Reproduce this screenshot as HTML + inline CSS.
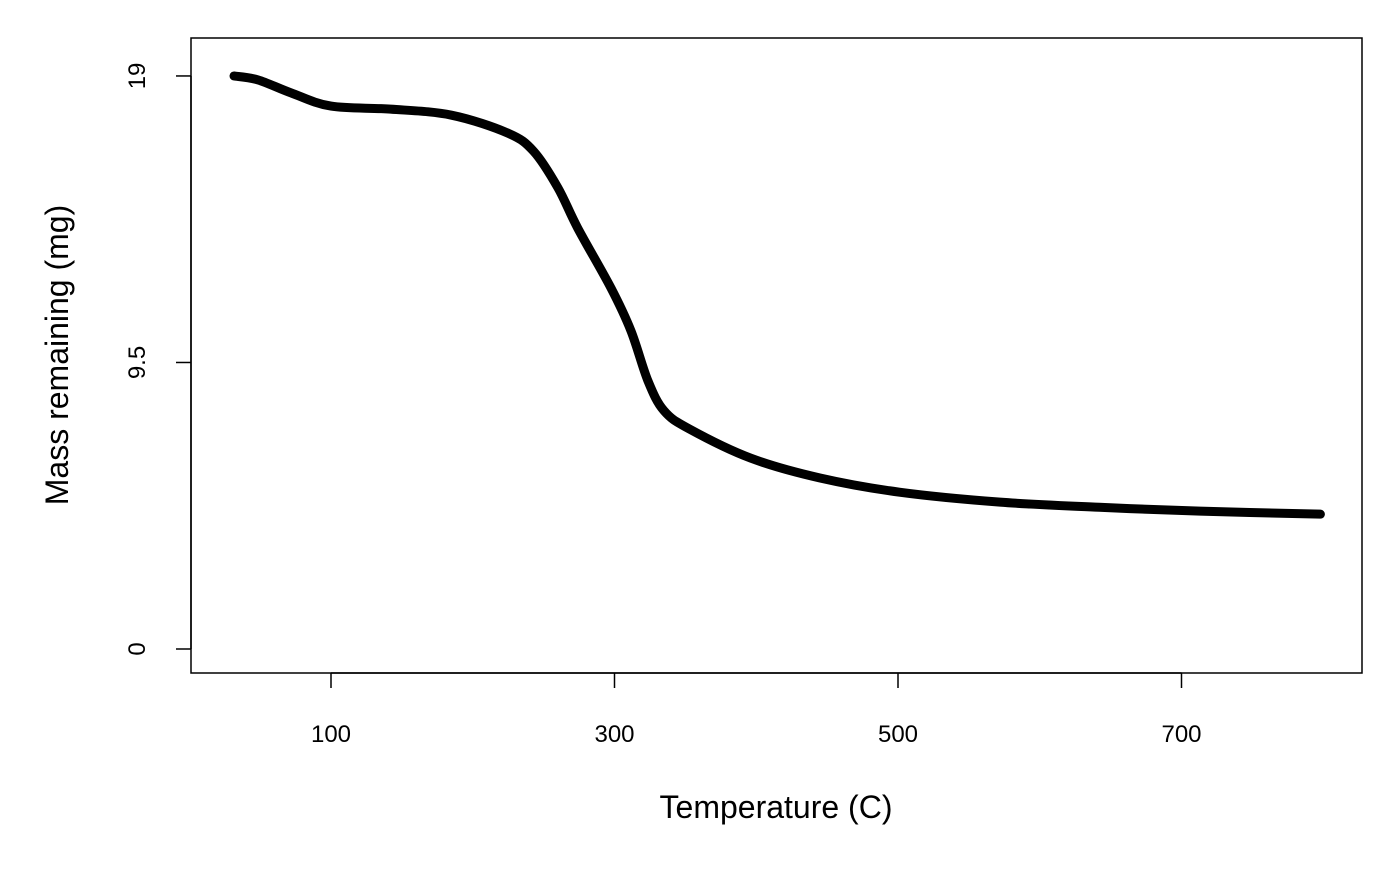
<!DOCTYPE html>
<html><head><meta charset="utf-8"><style>
body{margin:0;background:#fff}
text{font-family:"Liberation Sans",Arial,sans-serif;fill:#000}
</style></head><body>
<svg id="chart" width="1400" height="865" xmlns="http://www.w3.org/2000/svg">
<rect x="191" y="38" width="1171" height="635" fill="none" stroke="#000" stroke-width="1.5"/>
<g id="xaxis"></g><g id="yaxis"></g>
<text x="776" y="818" font-size="32" text-anchor="middle">Temperature (C)</text>
<text transform="translate(68,355) rotate(-90)" font-size="32" text-anchor="middle">Mass remaining (mg)</text>
<path id="curve" fill="none" stroke="#000" stroke-width="9" stroke-linecap="round" stroke-linejoin="round"/>
</svg>
<script>
const temps=[31.6,48.5,71.8,100,142,185,225,243,260,274,297.5,311.6,323.6,334.9,352.6,396,445,501,572,642,713,798];
const mass=[19.0,18.87,18.44,18.0,17.9,17.7,17.1,16.5,15.3,13.96,11.97,10.55,8.89,7.9,7.3,6.33,5.67,5.2,4.87,4.7,4.57,4.47];
const xTicks=[100,300,500,700];
const yTicks=[0,9.5,19];
const yTickLabels=["0","9.5","19"];
const NS="http://www.w3.org/2000/svg";
const X=t=>331+(t-100)*1.4175;
const Y=v=>649-v*30.16;
const xa=document.getElementById('xaxis'),ya=document.getElementById('yaxis');
function mk(tag,attrs,parent){const e=document.createElementNS(NS,tag);for(const k in attrs)e.setAttribute(k,attrs[k]);parent.appendChild(e);return e;}
mk('line',{x1:X(100),x2:X(700),y1:673,y2:673,stroke:'#000','stroke-width':1.5},xa);
xTicks.forEach(t=>{
 const l=mk('line',{x1:X(t),x2:X(t),y1:673,y2:688,stroke:'#000','stroke-width':1.5},xa);
 
 
 const tx=mk('text',{x:X(t),y:742,'font-size':24,'text-anchor':'middle'},xa);tx.textContent=t;
 
 
});
mk('line',{x1:191,x2:191,y1:Y(0),y2:Y(19),stroke:'#000','stroke-width':1.5},ya);
yTicks.forEach((v,i)=>{
 const l=mk('line',{x1:176,x2:191,y1:Y(v),y2:Y(v),stroke:'#000','stroke-width':1.5},ya);
 
 
 const tx=mk('text',{transform:`translate(145,${Y(v)}) rotate(-90)`,'font-size':24,'text-anchor':'middle'},ya);tx.textContent=yTickLabels[i];
 
 
});
const P=temps.map((t,i)=>[X(t),Y(mass[i])]);
let d=`M${P[0][0]},${P[0][1]}`;
for(let i=0;i<P.length-1;i++){
 const p0=P[i-1]||P[i],p1=P[i],p2=P[i+1],p3=P[i+2]||P[i+1];
 const c1=[p1[0]+(p2[0]-p0[0])/6,p1[1]+(p2[1]-p0[1])/6];
 const c2=[p2[0]-(p3[0]-p1[0])/6,p2[1]-(p3[1]-p1[1])/6];
 d+=` C${c1[0]},${c1[1]} ${c2[0]},${c2[1]} ${p2[0]},${p2[1]}`;
}
document.getElementById('curve').setAttribute('d',d);
</script>
</body></html>
